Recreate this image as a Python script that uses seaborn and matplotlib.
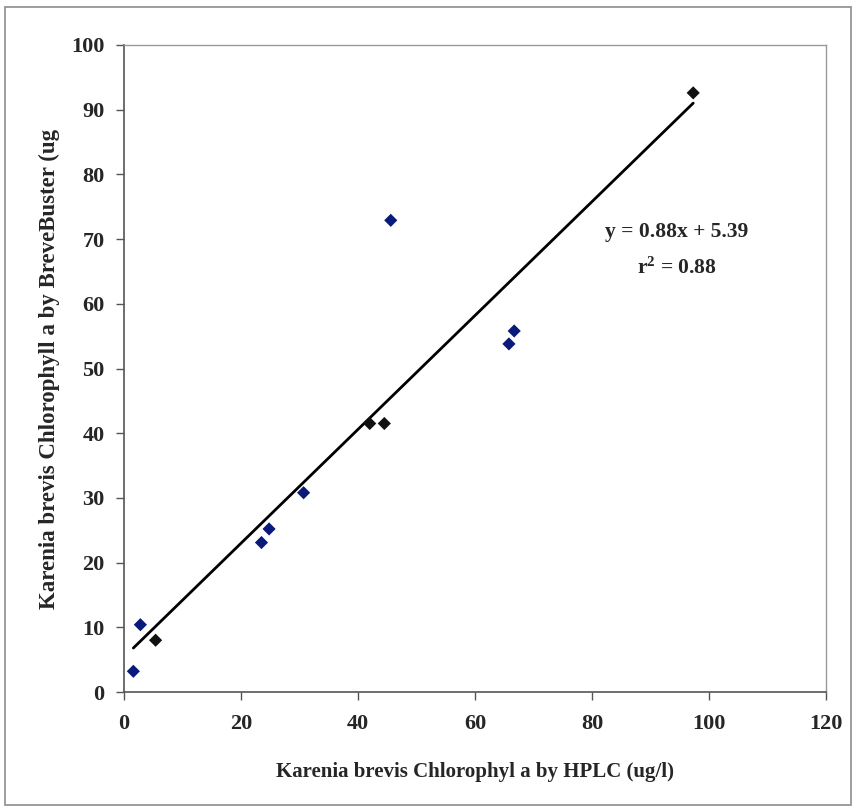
import matplotlib
matplotlib.use("Agg")
import matplotlib.pyplot as plt
import seaborn as sns
import numpy as np
import pandas as pd
from matplotlib.patches import Rectangle

# Data
hplc = [1.6, 2.8, 23.5, 24.8, 30.7, 45.6, 65.8, 66.7, 5.4, 42.0, 44.5, 97.3]
brevebuster = [3.2, 10.4, 23.1, 25.2, 30.8, 72.9, 53.8, 55.8, 8.0, 41.5, 41.5, 92.6]
group = ["blue"] * 8 + ["black"] * 4
slope, intercept = 0.88, 5.39
x_ticks = [0, 20, 40, 60, 80, 100, 120]
y_ticks = [0, 10, 20, 30, 40, 50, 60, 70, 80, 90, 100]

df = pd.DataFrame({"x": hplc, "y": brevebuster, "g": group})

sns.set_style("white")
plt.rcParams["font.family"] = ["Liberation Serif", "DejaVu Serif"]
plt.rcParams["mathtext.fontset"] = "custom"
plt.rcParams["mathtext.rm"] = "Liberation Serif:bold"
plt.rcParams["mathtext.bf"] = "Liberation Serif:bold"
plt.rcParams["mathtext.it"] = "Liberation Serif:bold"

fig = plt.figure(figsize=(8.56, 8.11), dpi=100)
ax = fig.add_axes([124 / 856, 1 - 692 / 811, (826 - 124) / 856, (692 - 45) / 811])

# outer frame
fig.patches.append(Rectangle((5 / 856, 6 / 811), 846 / 856, 798 / 811, transform=fig.transFigure,
                             fill=False, edgecolor="#8c8c8c", linewidth=1.2))

# trend line
xl = np.array([min(hplc), max(hplc)])
ax.plot(xl, slope * xl + intercept, color="black", linewidth=2, zorder=2)

sns.scatterplot(data=df, x="x", y="y", hue="g", palette={"blue": "#0a1a7a", "black": "#111111"},
                marker="D", s=45, edgecolor="none", legend=False, ax=ax, zorder=3)

ax.set_xlim(0, 120)
ax.set_ylim(0, 100)
ax.set_xticks(x_ticks)
ax.set_yticks(y_ticks)
ax.set_xticklabels([str(t) for t in x_ticks], fontsize=16, fontweight="bold")
ax.set_yticklabels([str(t) for t in y_ticks], fontsize=16, fontweight="bold")
ax.tick_params(axis="both", direction="out", length=6, width=1, color="#555555",
               bottom=True, left=True)
ax.tick_params(axis="y", pad=8)
ax.tick_params(axis="x", pad=10)

for side in ["top", "right"]:
    ax.spines[side].set_color("#999999")
    ax.spines[side].set_linewidth(1.0)
for side in ["left", "bottom"]:
    ax.spines[side].set_color("#555555")
    ax.spines[side].set_linewidth(1.2)

ax.set_xlabel("Karenia brevis Chlorophyl a by HPLC (ug/l)", fontsize=15, fontweight="bold", labelpad=20)
ax.set_ylabel("Karenia brevis Chlorophyll a by BreveBuster (ug", fontsize=16.5, fontweight="bold",
              labelpad=8)

eq_x = (677 - 124) / 5.85
ax.text(eq_x, (692 - 232) / 6.47, "y = 0.88x + 5.39", fontsize=15.5, fontweight="bold",
        ha="center", va="center")
ax.text(eq_x, (692 - 268) / 6.47, r"r$^{2}$ = 0.88", fontsize=15.5, fontweight="bold",
        ha="center", va="center")

fig.savefig("out.png", dpi=100)
